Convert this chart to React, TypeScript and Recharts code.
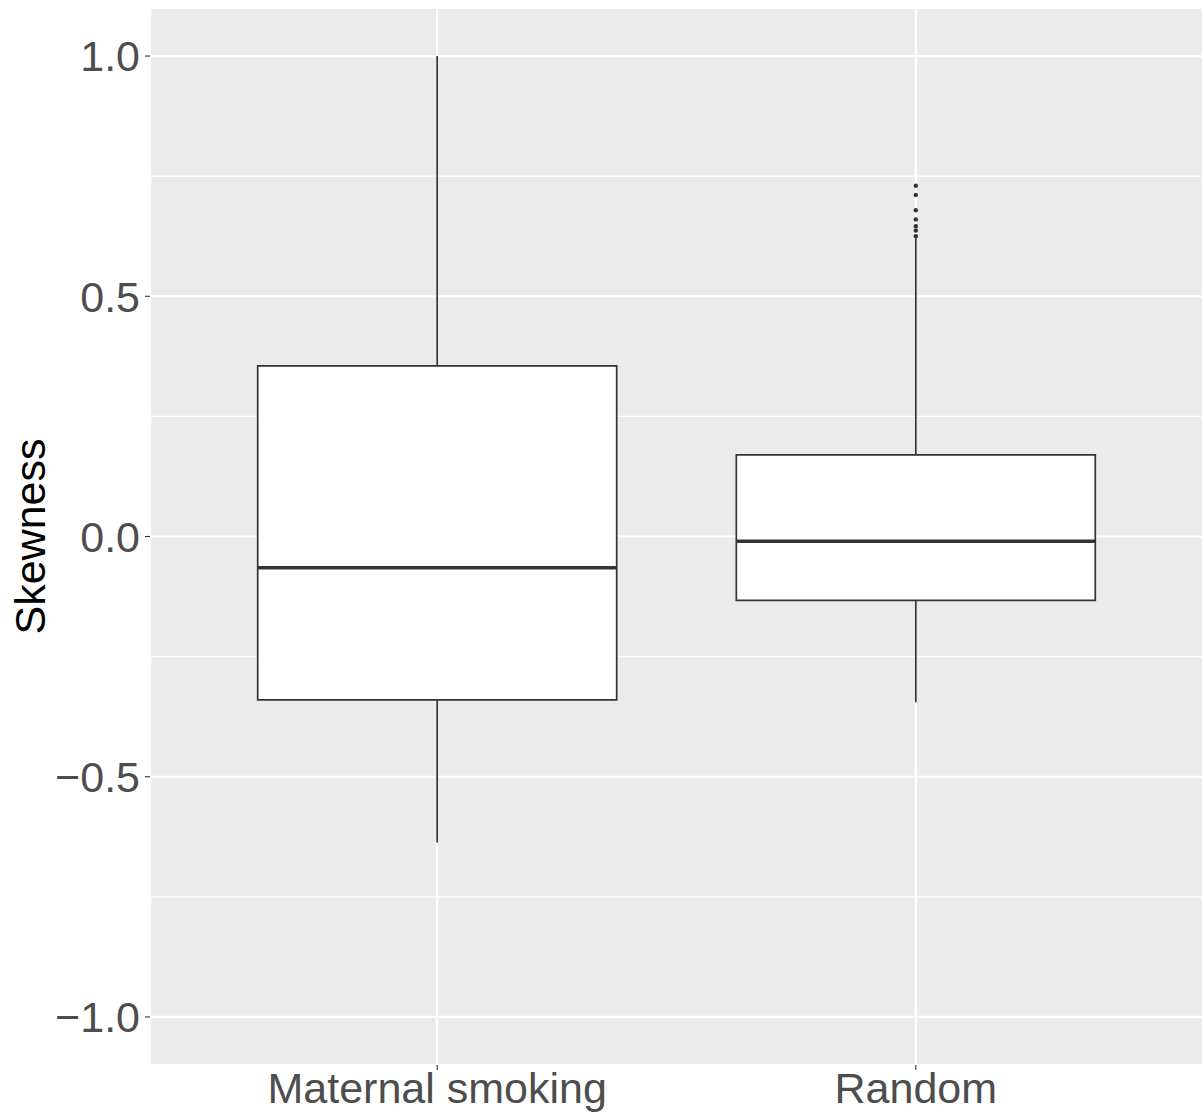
import React from "react";
import {
  ComposedChart,
  XAxis,
  YAxis,
  CartesianGrid,
  ReferenceArea,
  ReferenceLine,
  Scatter,
} from "recharts";

const categories = ["Maternal smoking", "Random"];
const positions = [1, 2];
const q1 = [-0.34, -0.133];
const median = [-0.065, -0.01];
const q3 = [0.355, 0.17];
const whiskerLow = [-0.637, -0.345];
const whiskerHigh = [1.0, 0.621];
const outliersRandom = [0.73, 0.711, 0.679, 0.66, 0.646, 0.637, 0.625];

const yMajorTicks = [-1, -0.5, 0, 0.5, 1];
const yMinorTicks = [-0.75, -0.25, 0.25, 0.75];

const outlierData = outliersRandom.map((v) => ({ x: 2, y: v }));

const FONT = '"Liberation Sans", Arial, Helvetica, sans-serif';
const HALF = 0.375;
const INK = "#333333";

const fmt = (v: number) =>
  v < 0 ? "\u2212" + Math.abs(v).toFixed(1) : v.toFixed(1);

export default function App() {
  return (
    <div style={{ position: "absolute", left: 0, top: 0 }}>
      <ComposedChart
        width={1203}
        height={1115}
        data={outlierData}
        margin={{ top: 8, right: 0, bottom: 0, left: 0 }}
      >
        <CartesianGrid
          yAxisId="minor"
          fill="#EBEBEB"
          stroke="#FFFFFF"
          strokeWidth={1.1}
          vertical={false}
        />
        <CartesianGrid
          stroke="#FFFFFF"
          strokeWidth={2.2}
          fill="none"
        />
        <XAxis
          type="number"
          dataKey="x"
          domain={[0.4, 2.6]}
          ticks={positions}
          interval={0}
          allowDataOverflow
          tickFormatter={(v: number) => categories[positions.indexOf(v)] ?? ""}
          height={50}
          axisLine={false}
          tickLine={{ stroke: INK, strokeWidth: 1.1 }}
          tickSize={5}
          tickMargin={2}
          tick={{ fill: "#4D4D4D", fontSize: 43, fontFamily: FONT }}
        />
        <YAxis
          type="number"
          dataKey="y"
          domain={[-1.1, 1.1]}
          ticks={yMajorTicks}
          interval={0}
          allowDataOverflow
          tickFormatter={fmt}
          width={150}
          axisLine={false}
          tickLine={{ stroke: INK, strokeWidth: 1.1 }}
          tickSize={5}
          tickMargin={5}
          tick={{ fill: "#4D4D4D", fontSize: 43, fontFamily: FONT }}
          label={(props: any) => {
            const vb = props.viewBox || { y: 8, height: 1057 };
            const cy = vb.y + vb.height / 2;
            return (
              <text
                x={45}
                y={cy}
                transform={`rotate(-90, 45, ${cy})`}
                textAnchor="middle"
                fill="#000000"
                fontSize={43}
                fontFamily={FONT}
              >
                Skewness
              </text>
            );
          }}
        />
        <YAxis
          yAxisId="minor"
          type="number"
          domain={[-1.1, 1.1]}
          ticks={yMinorTicks}
          interval={0}
          allowDataOverflow
          hide
        />
        {positions.map((p, i) => (
          <ReferenceArea
            key={"box" + i}
            x1={p - HALF}
            x2={p + HALF}
            y1={q1[i]}
            y2={q3[i]}
            fill="#FFFFFF"
            fillOpacity={1}
            stroke={INK}
            strokeWidth={1.7}
            ifOverflow="visible"
          />
        ))}
        {positions.map((p, i) => (
          <ReferenceLine
            key={"wu" + i}
            segment={[
              { x: p, y: q3[i] },
              { x: p, y: whiskerHigh[i] },
            ]}
            stroke={INK}
            strokeWidth={1.7}
            ifOverflow="visible"
          />
        ))}
        {positions.map((p, i) => (
          <ReferenceLine
            key={"wl" + i}
            segment={[
              { x: p, y: q1[i] },
              { x: p, y: whiskerLow[i] },
            ]}
            stroke={INK}
            strokeWidth={1.7}
            ifOverflow="visible"
          />
        ))}
        {positions.map((p, i) => (
          <ReferenceLine
            key={"med" + i}
            segment={[
              { x: p - HALF, y: median[i] },
              { x: p + HALF, y: median[i] },
            ]}
            stroke={INK}
            strokeWidth={3.4}
            ifOverflow="visible"
          />
        ))}
        <Scatter
          dataKey="y"
          data={outlierData}
          isAnimationActive={false}
          shape={(props: any) => (
            <circle cx={props.cx} cy={props.cy} r={2.2} fill={INK} />
          )}
        />
      </ComposedChart>
    </div>
  );
}
